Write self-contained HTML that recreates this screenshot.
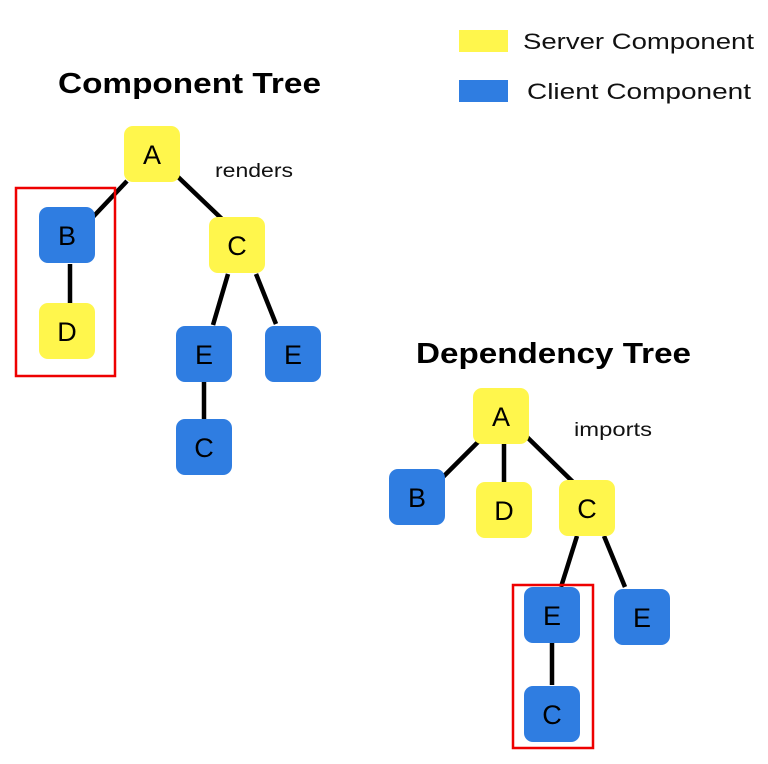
<!DOCTYPE html>
<html><head><style>
html,body{margin:0;padding:0;background:#fff;width:768px;height:764px;overflow:hidden}
</style></head><body>
<svg width="768" height="764" xmlns="http://www.w3.org/2000/svg" font-family="Liberation Sans, sans-serif">
<rect x="459" y="30" width="49" height="22" fill="#FFF64C"/>
<text x="523" y="49" font-size="22" fill="#111" textLength="231" lengthAdjust="spacingAndGlyphs">Server Component</text>
<rect x="459" y="80" width="49" height="22" fill="#2F7DE1"/>
<text x="527" y="99" font-size="22" fill="#111" textLength="224" lengthAdjust="spacingAndGlyphs">Client Component</text>
<text x="58" y="93" font-size="29" font-weight="bold" fill="#000" textLength="263" lengthAdjust="spacingAndGlyphs">Component Tree</text>
<text x="416" y="363" font-size="29" font-weight="bold" fill="#000" textLength="275" lengthAdjust="spacingAndGlyphs">Dependency Tree</text>
<text x="215" y="177" font-size="19" fill="#111" textLength="78" lengthAdjust="spacingAndGlyphs">renders</text>
<text x="574" y="436" font-size="19" fill="#111" textLength="78" lengthAdjust="spacingAndGlyphs">imports</text>
<g stroke="#000" stroke-width="4.5" fill="none">
<line x1="127" y1="181" x2="92" y2="218"/>
<line x1="176" y1="175" x2="222" y2="219"/>
<line x1="70" y1="264" x2="70" y2="306"/>
<line x1="228" y1="274" x2="213" y2="325"/>
<line x1="256" y1="274" x2="276" y2="324"/>
<line x1="204" y1="382" x2="204" y2="419"/>
<line x1="479" y1="441" x2="442" y2="478"/>
<line x1="504" y1="443" x2="504" y2="486"/>
<line x1="527" y1="437" x2="573" y2="482"/>
<line x1="577" y1="536" x2="561" y2="587"/>
<line x1="604" y1="536" x2="625" y2="587"/>
<line x1="552" y1="643" x2="552" y2="685"/>
</g>
<g font-size="27" text-anchor="middle" fill="#000">
<rect x="124" y="126" width="56" height="56" rx="9" fill="#FFF64C"/><text x="152" y="164">A</text>
<rect x="39" y="207" width="56" height="56" rx="9" fill="#2F7DE1"/><text x="67" y="245">B</text>
<rect x="39" y="303" width="56" height="56" rx="9" fill="#FFF64C"/><text x="67" y="341">D</text>
<rect x="209" y="217" width="56" height="56" rx="9" fill="#FFF64C"/><text x="237" y="255">C</text>
<rect x="176" y="326" width="56" height="56" rx="9" fill="#2F7DE1"/><text x="204" y="364">E</text>
<rect x="265" y="326" width="56" height="56" rx="9" fill="#2F7DE1"/><text x="293" y="364">E</text>
<rect x="176" y="419" width="56" height="56" rx="9" fill="#2F7DE1"/><text x="204" y="457">C</text>
<rect x="473" y="388" width="56" height="56" rx="9" fill="#FFF64C"/><text x="501" y="426">A</text>
<rect x="389" y="469" width="56" height="56" rx="9" fill="#2F7DE1"/><text x="417" y="507">B</text>
<rect x="476" y="482" width="56" height="56" rx="9" fill="#FFF64C"/><text x="504" y="520">D</text>
<rect x="559" y="480" width="56" height="56" rx="9" fill="#FFF64C"/><text x="587" y="518">C</text>
<rect x="524" y="587" width="56" height="56" rx="9" fill="#2F7DE1"/><text x="552" y="625">E</text>
<rect x="614" y="589" width="56" height="56" rx="9" fill="#2F7DE1"/><text x="642" y="627">E</text>
<rect x="524" y="686" width="56" height="56" rx="9" fill="#2F7DE1"/><text x="552" y="724">C</text>
</g>
<rect x="16" y="188" width="99" height="188" fill="none" stroke="#E00" stroke-width="2.5"/>
<rect x="513" y="585" width="80" height="163" fill="none" stroke="#E00" stroke-width="2.5"/>
</svg>
</body></html>
